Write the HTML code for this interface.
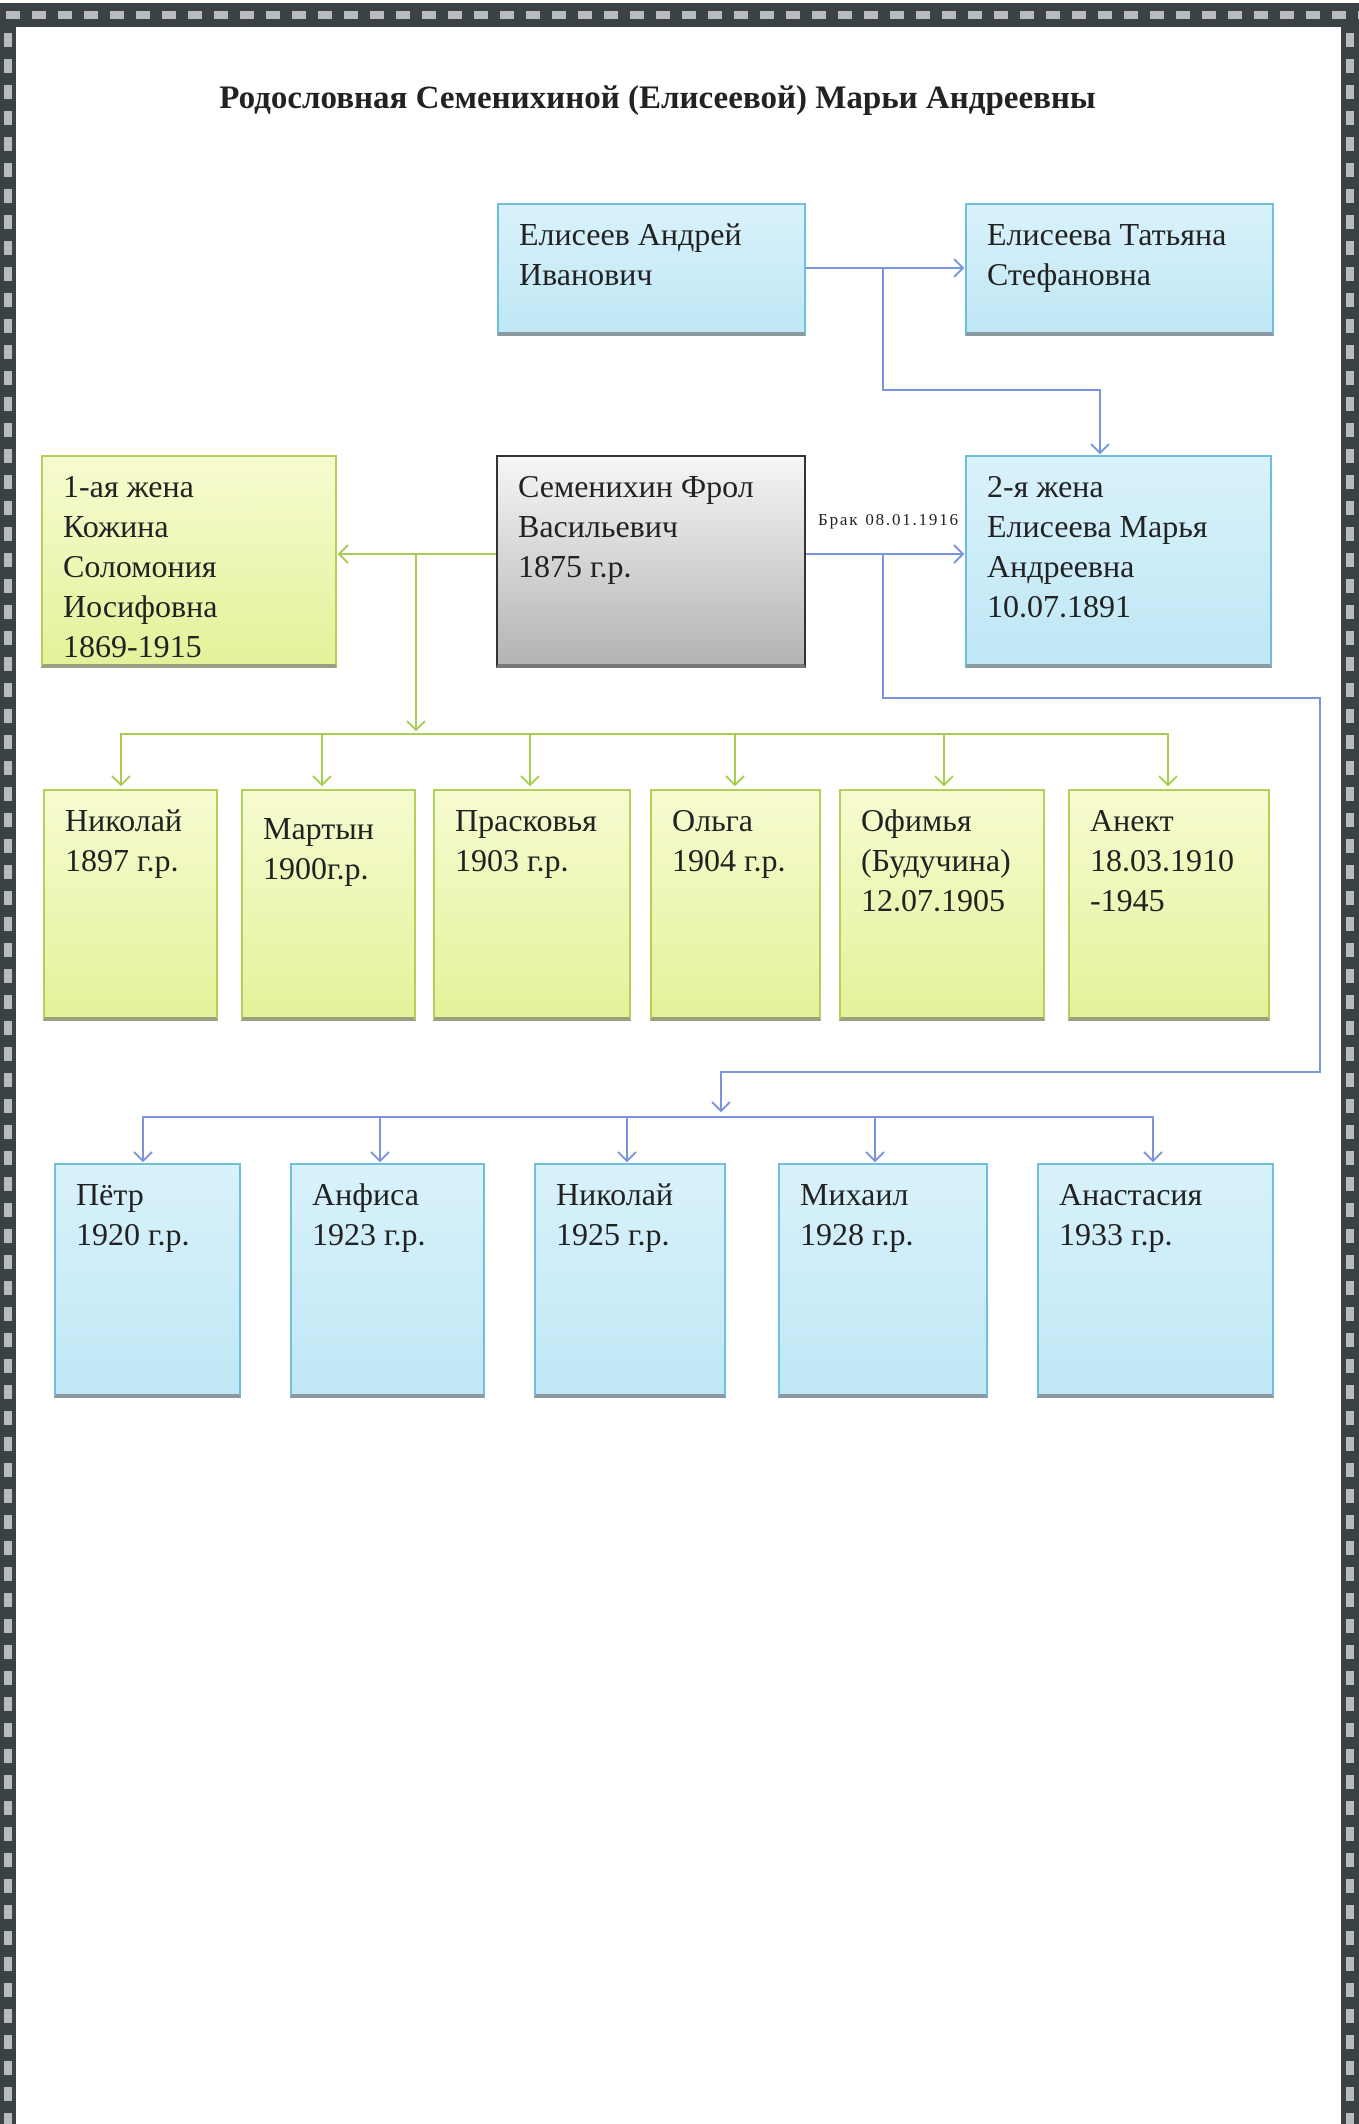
<!DOCTYPE html>
<html><head><meta charset="utf-8"><style>
html,body{margin:0;padding:0;background:#fff}
body{width:1359px;height:2124px;position:relative;overflow:hidden;font-family:"Liberation Serif",serif}
.band{position:absolute;background:#3a4246}
.top{left:0;top:3px;width:1359px;height:24px;background:#3a4246 repeating-linear-gradient(90deg,transparent 0 6px,#b8bcc0 6px 20px,transparent 20px 26px);background-size:26px 8px;background-repeat:repeat-x;background-position:0 8px}
.left{left:0;top:27px;width:16px;height:2097px;background:#3a4246 repeating-linear-gradient(0deg,transparent 0 6px,#b8bcc0 6px 20px,transparent 20px 26px);background-size:8px 26px;background-repeat:repeat-y;background-position:4px 0}
.right{left:1341px;top:27px;width:18px;height:2097px;background:#3a4246 repeating-linear-gradient(0deg,transparent 0 6px,#b8bcc0 6px 20px,transparent 20px 26px);background-size:8px 26px;background-repeat:repeat-y;background-position:5px 0}
.title{position:absolute;left:0;width:1315px;top:80px;text-align:center;font-weight:bold;font-size:33px;color:#222}
.b{position:absolute;box-sizing:border-box;padding:9px 0 0 20px;font-size:32px;line-height:40px;color:#222;border-bottom:4px solid #999;white-space:nowrap}
.bl{background:linear-gradient(#d9f2fb,#bfe7f5);border:2px solid #6cc0dd;border-bottom:4px solid #8a9aa0}
.gr{background:linear-gradient(#f7fbd0,#e4f29a);border:2px solid #b3d05a;border-bottom:4px solid #9aa080}
.gy{background:linear-gradient(#f6f6f6,#b4b4b4);border:2px solid #333;border-bottom:4px solid #777}
svg{position:absolute;left:0;top:0}
</style></head><body>
<div class="band top"></div><div class="band left"></div><div class="band right"></div>
<div class="title">Родословная Семенихиной (Елисеевой) Марьи Андреевны</div>

<div class="b bl" style="left:497px;top:203px;width:309px;height:133px">Елисеев Андрей<br>Иванович</div>
<div class="b bl" style="left:965px;top:203px;width:309px;height:133px">Елисеева Татьяна<br>Стефановна</div>
<div class="b gr" style="left:41px;top:455px;width:296px;height:213px">1-ая жена<br>Кожина<br>Соломония<br>Иосифовна<br>1869-1915</div>
<div class="b gy" style="left:496px;top:455px;width:310px;height:213px">Семенихин Фрол<br>Васильевич<br>1875 г.р.</div>
<div class="b bl" style="left:965px;top:455px;width:307px;height:213px">2-я жена<br>Елисеева Марья<br>Андреевна<br>10.07.1891</div>

<div class="b gr" style="left:43px;top:789px;width:175px;height:232px">Николай<br>1897 г.р.</div>
<div class="b gr" style="left:241px;top:789px;width:175px;height:232px;padding-top:17px">Мартын<br>1900г.р.</div>
<div class="b gr" style="left:433px;top:789px;width:198px;height:232px">Прасковья<br>1903 г.р.</div>
<div class="b gr" style="left:650px;top:789px;width:171px;height:232px">Ольга<br>1904 г.р.</div>
<div class="b gr" style="left:839px;top:789px;width:206px;height:232px">Офимья<br>(Будучина)<br>12.07.1905</div>
<div class="b gr" style="left:1068px;top:789px;width:202px;height:232px">Анект<br>18.03.1910<br>-1945</div>

<div class="b bl" style="left:54px;top:1163px;width:187px;height:235px">Пётр<br>1920 г.р.</div>
<div class="b bl" style="left:290px;top:1163px;width:195px;height:235px">Анфиса<br>1923 г.р.</div>
<div class="b bl" style="left:534px;top:1163px;width:192px;height:235px">Николай<br>1925 г.р.</div>
<div class="b bl" style="left:778px;top:1163px;width:210px;height:235px">Михаил<br>1928 г.р.</div>
<div class="b bl" style="left:1037px;top:1163px;width:237px;height:235px">Анастасия<br>1933 г.р.</div>

<svg width="1359" height="2124" viewBox="0 0 1359 2124" fill="none">
<g stroke="#7a95dd" stroke-width="2">
<path d="M806 268H963M954 259l9 9-9 9"/>
<path d="M883 268V390H1100V453M1091 444l9 9 9-9"/>
<path d="M806 554H963M954 545l9 9-9 9"/>
<path d="M883 554V698H1320V1072H721V1111M712 1102l9 9 9-9"/>
<path d="M143 1161V1117H1153V1161M380 1117V1161M627 1117V1161M875 1117V1161"/>
<path d="M134 1152l9 9 9-9M371 1152l9 9 9-9M618 1152l9 9 9-9M866 1152l9 9 9-9M1144 1152l9 9 9-9"/>
</g>
<g stroke="#a8cc50" stroke-width="2">
<path d="M496 554H339M348 545l-9 9 9 9"/>
<path d="M416 554V730M407 721l9 9 9-9"/>
<path d="M121 785V734H1168V785M322 734V785M530 734V785M735 734V785M944 734V785"/>
<path d="M112 776l9 9 9-9M313 776l9 9 9-9M521 776l9 9 9-9M726 776l9 9 9-9M935 776l9 9 9-9M1159 776l9 9 9-9"/>
</g>
<text x="818" y="525" font-family="Liberation Serif,serif" font-size="17" fill="#222" stroke="none" textLength="140">Брак 08.01.1916</text>
</svg>
</body></html>
